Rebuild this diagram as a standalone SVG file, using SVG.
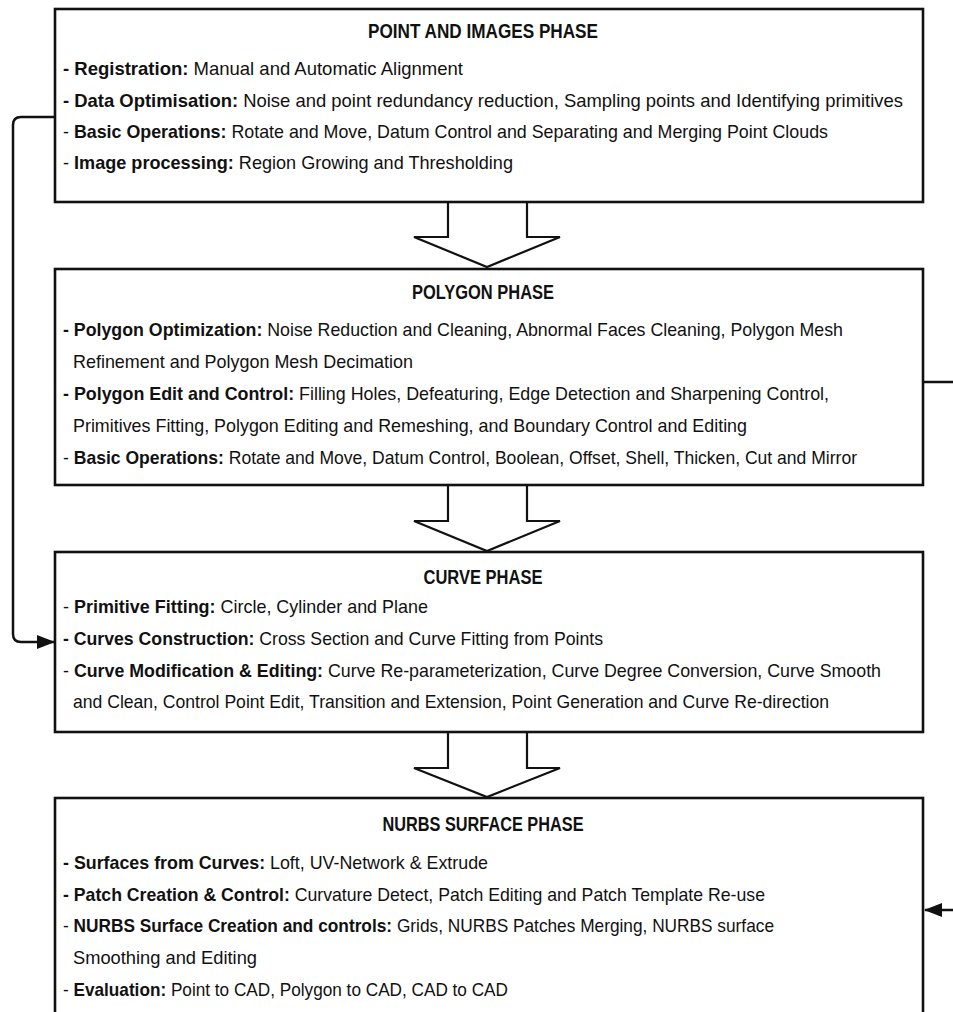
<svg xmlns="http://www.w3.org/2000/svg" width="953" height="1012" viewBox="0 0 953 1012">
<style>
.box{fill:#fff;stroke:#111;stroke-width:2.6}
.barrow{fill:#fff;stroke:#111;stroke-width:2.2;stroke-linejoin:miter}
.conn{fill:none;stroke:#111;stroke-width:2.5}
text{font-family:"Liberation Sans",Arial,sans-serif;font-size:18.5px;fill:#111}
.t{font-weight:bold;font-size:20.5px;text-anchor:middle}
.b{font-weight:bold}
</style>
<defs>
<marker id="ah" viewBox="0 0 18 14" refX="17" refY="7" markerWidth="18" markerHeight="14" markerUnits="userSpaceOnUse" orient="auto">
<path d="M0,0 L18,7 L0,14 Z" fill="#111"/>
</marker>
</defs>
<g id="connectors">
<path class="conn" d="M55,117 H21 Q13,117 13,125 V634 Q13,642 21,642 H54" marker-end="url(#ah)"/>
<path class="conn" d="M923,382 H962 V910 H925" marker-end="url(#ah)"/>
</g>
<g id="arrows">
<polygon class="barrow" points="448,202 448,237 414,237 487,267 560,237 527,237 527,202"/>
<polygon class="barrow" points="448,485 448,521 414,521 487,551 560,521 527,521 527,485"/>
<polygon class="barrow" points="448,732 448,768 414,768 487,797 560,768 527,768 527,732"/>
</g>
<g id="point-images-phase">
<rect class="box" x="55" y="9" width="868" height="193"/>
<text class="t" x="483" y="38" textLength="230" lengthAdjust="spacingAndGlyphs">POINT AND IMAGES PHASE</text>
<text x="63" y="75" textLength="400" lengthAdjust="spacingAndGlyphs"><tspan class="b">- Registration:</tspan> Manual and Automatic Alignment</text>
<text x="63" y="107" textLength="840" lengthAdjust="spacingAndGlyphs"><tspan class="b">- Data Optimisation:</tspan> Noise and point redundancy reduction, Sampling points and Identifying primitives</text>
<text x="63" y="138" textLength="765" lengthAdjust="spacingAndGlyphs">- <tspan class="b">Basic Operations:</tspan> Rotate and Move, Datum Control and Separating and Merging Point Clouds</text>
<text x="63" y="169" textLength="450" lengthAdjust="spacingAndGlyphs">- <tspan class="b">Image processing:</tspan> Region Growing and Thresholding</text>
</g>
<g id="polygon-phase">
<rect class="box" x="55" y="269" width="868" height="216"/>
<text class="t" x="483" y="299" textLength="142" lengthAdjust="spacingAndGlyphs">POLYGON PHASE</text>
<text x="63" y="336" textLength="780" lengthAdjust="spacingAndGlyphs"><tspan class="b">- Polygon Optimization:</tspan> Noise Reduction and Cleaning, Abnormal Faces Cleaning, Polygon Mesh</text>
<text x="73" y="368" textLength="340" lengthAdjust="spacingAndGlyphs">Refinement and Polygon Mesh Decimation</text>
<text x="63" y="400" textLength="766" lengthAdjust="spacingAndGlyphs"><tspan class="b">- Polygon Edit and Control:</tspan> Filling Holes, Defeaturing, Edge Detection and Sharpening Control,</text>
<text x="73" y="432" textLength="674" lengthAdjust="spacingAndGlyphs">Primitives Fitting, Polygon Editing and Remeshing, and Boundary Control and Editing</text>
<text x="63" y="464" textLength="794" lengthAdjust="spacingAndGlyphs">- <tspan class="b">Basic Operations:</tspan> Rotate and Move, Datum Control, Boolean, Offset, Shell, Thicken, Cut and Mirror</text>
</g>
<g id="curve-phase">
<rect class="box" x="55" y="552" width="868" height="180"/>
<text class="t" x="483" y="584" textLength="119" lengthAdjust="spacingAndGlyphs">CURVE PHASE</text>
<text x="63" y="613" textLength="365" lengthAdjust="spacingAndGlyphs">- <tspan class="b">Primitive Fitting:</tspan> Circle, Cylinder and Plane</text>
<text x="63" y="645" textLength="540" lengthAdjust="spacingAndGlyphs"><tspan class="b">- Curves Construction:</tspan> Cross Section and Curve Fitting from Points</text>
<text x="63" y="677" textLength="818" lengthAdjust="spacingAndGlyphs">- <tspan class="b">Curve Modification &amp; Editing:</tspan> Curve Re-parameterization, Curve Degree Conversion, Curve Smooth</text>
<text x="73" y="708" textLength="756" lengthAdjust="spacingAndGlyphs">and Clean, Control Point Edit, Transition and Extension, Point Generation and Curve Re-direction</text>
</g>
<g id="nurbs-surface-phase">
<rect class="box" x="55" y="798" width="868" height="240"/>
<text class="t" x="483" y="831" textLength="201" lengthAdjust="spacingAndGlyphs">NURBS SURFACE PHASE</text>
<text x="63" y="869" textLength="425" lengthAdjust="spacingAndGlyphs"><tspan class="b">- Surfaces from Curves:</tspan> Loft, UV-Network &amp; Extrude</text>
<text x="63" y="901" textLength="702" lengthAdjust="spacingAndGlyphs"><tspan class="b">- Patch Creation &amp; Control:</tspan> Curvature Detect, Patch Editing and Patch Template Re-use</text>
<text x="63" y="932" textLength="711" lengthAdjust="spacingAndGlyphs">- <tspan class="b">NURBS Surface Creation and controls:</tspan> Grids, NURBS Patches Merging, NURBS surface</text>
<text x="73" y="964" textLength="184" lengthAdjust="spacingAndGlyphs">Smoothing and Editing</text>
<text x="63" y="996" textLength="445" lengthAdjust="spacingAndGlyphs">- <tspan class="b">Evaluation:</tspan> Point to CAD, Polygon to CAD, CAD to CAD</text>
</g>
</svg>
